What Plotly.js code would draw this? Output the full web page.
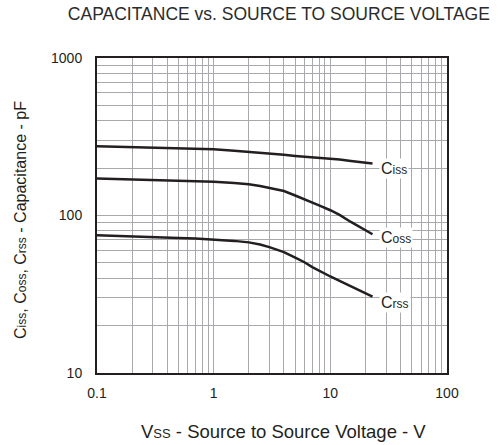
<!DOCTYPE html>
<html>
<head>
<meta charset="utf-8">
<script src="https://cdn.plot.ly/plotly-3.0.1.min.js"></script>
<style>html,body{margin:0;padding:0;background:#fff;}</style>
</head>
<body>
<div id="chart" style="width:498px;height:445px;"></div>
<script>
// Source-to-source voltage (V)
var vss = [0.1, 0.2, 0.3, 0.5, 0.7, 1, 1.5, 2, 2.5, 3, 4, 5, 6, 7, 8, 10, 12, 15, 18, 23];
// Capacitances (pF)
var ciss = [275, 272, 270, 268, 266, 263, 258, 254, 250, 247, 243, 239, 237, 235, 233, 230, 227, 222, 219, 214];
var coss = [172, 170, 169, 167, 166, 164, 161, 158, 154, 150, 143, 134, 127, 121, 116, 108, 101, 91, 84, 76];
var crss = [75, 74, 73.5, 72, 71.5, 70.5, 69, 67.5, 65.5, 63, 58.5, 54, 50.5, 47, 44.5, 41, 38.5, 35.5, 33, 30.5];
var seriesNames = ['iss', 'oss', 'rss'];

var xTickVals = [], xTickText = [];
[0.1, 1, 10].forEach(function (d) {
  for (var k = 1; k <= 9; k++) { xTickVals.push(d * k); xTickText.push(k === 1 ? String(d) : ''); }
});
xTickVals.push(100); xTickText.push('100');
var yTickVals = [], yTickText = [];
[10, 100].forEach(function (d) {
  for (var k = 1; k <= 9; k++) { yTickVals.push(d * k); yTickText.push(k === 1 ? String(d) : ''); }
});
yTickVals.push(1000); yTickText.push('1000');

var ink = '#231f20';
var fam = 'Liberation Sans, Arial, sans-serif';
function sub(s, size) { return '<span style="font-size:' + size + 'px">' + s + '</span>'; }
function trace(y) {
  return { x: vss, y: y, mode: 'lines', line: { color: ink, width: 2.5 }, hoverinfo: 'skip', showlegend: false };
}
var all = [ciss, coss, crss];
var yShift = [-5, -3, -6];
var annotations = all.map(function (s, i) {
  var n = s.length - 1;
  return {
    x: Math.log10(vss[n]), y: Math.log10(s[n]), xref: 'x', yref: 'y',
    text: 'C' + sub(seriesNames[i], 12), showarrow: false,
    xanchor: 'left', yanchor: 'middle', xshift: 6, yshift: yShift[i],
    bgcolor: '#ffffff', borderpad: 1,
    font: { family: fam, size: 16, color: ink }
  };
});
// y-axis title
annotations.push({
  xref: 'paper', yref: 'paper', x: -0.217, y: 0.486,
  xanchor: 'center', yanchor: 'middle', textangle: -90, showarrow: false,
  text: 'C' + sub('iss', 12) + ', C' + sub('oss', 12) + ', C' + sub('rss', 12) + ' - Capacitance - pF',
  font: { family: fam, size: 16, color: ink }
});
// x-axis title
annotations.push({
  xref: 'paper', yref: 'paper', x: 0.533, y: -0.187,
  xanchor: 'center', yanchor: 'middle', showarrow: false,
  text: 'V' + sub('SS', 13) + ' - Source to Source Voltage - V',
  font: { family: fam, size: 18.5, color: ink }
});

var layout = {
  width: 498, height: 445,
  margin: { l: 97, r: 51, t: 58, b: 72 },
  paper_bgcolor: '#ffffff', plot_bgcolor: '#ffffff',
  font: { family: fam, color: ink, size: 14 },
  title: {
    text: 'CAPACITANCE vs. SOURCE TO SOURCE VOLTAGE',
    x: 0.56, xanchor: 'center', y: 0.968, yanchor: 'middle',
    font: { size: 17.5, color: '#2b2b2b' }
  },
  xaxis: {
    type: 'log', range: [-1, 2],
    tickmode: 'array', tickvals: xTickVals, ticktext: xTickText,
    showgrid: true, gridcolor: '#a7a9ac', gridwidth: 1,
    showline: true, linecolor: ink, linewidth: 2, mirror: true,
    ticks: '', ticklabelstandoff: 6, zeroline: false,
    tickfont: { size: 14, color: ink }
  },
  yaxis: {
    type: 'log', range: [1, 3],
    tickmode: 'array', tickvals: yTickVals, ticktext: yTickText,
    showgrid: true, gridcolor: '#a7a9ac', gridwidth: 1,
    showline: true, linecolor: ink, linewidth: 2, mirror: true,
    ticks: '', ticklabelstandoff: 10, zeroline: false,
    tickfont: { size: 14, color: ink }
  },
  annotations: annotations
};

Plotly.newPlot('chart', [trace(ciss), trace(coss), trace(crss)], layout, { displayModeBar: false, staticPlot: true });
</script>
</body>
</html>
